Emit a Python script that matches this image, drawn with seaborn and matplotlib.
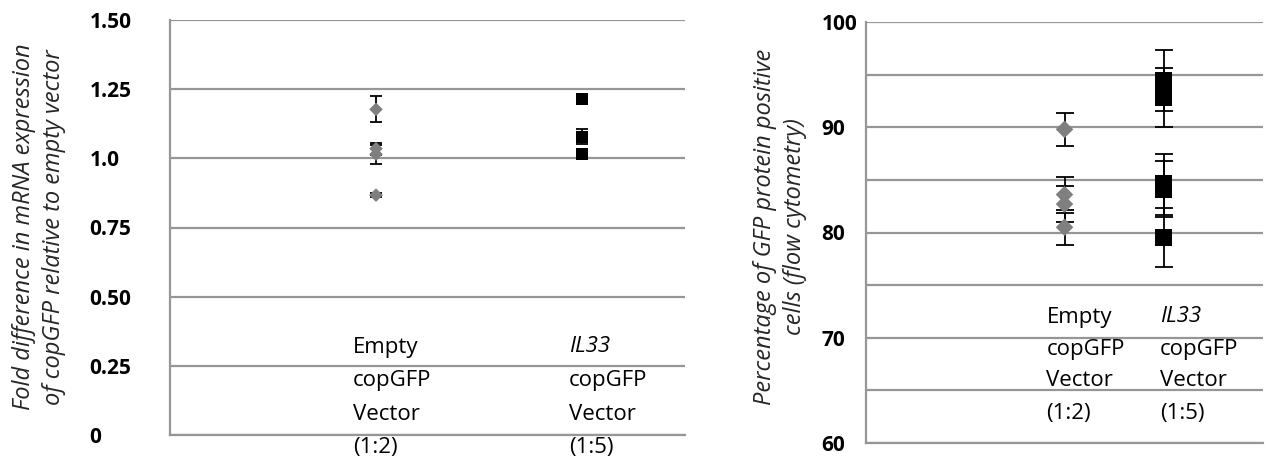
import pandas as pd
import seaborn as sns
import matplotlib.pyplot as plt
from matplotlib.ticker import MultipleLocator

# Fold difference in copGFP mRNA (one value per replicate, with error)
mrna_empty = [1.177, 1.035, 1.015, 0.867]
mrna_empty_err = [0.047, 0.022, 0.035, 0.008]
mrna_il33 = [1.214, 1.078, 1.015]
mrna_il33_err = [0.008, 0.027, 0.008]

# Percentage of GFP positive cells (flow cytometry)
gfp_empty = [89.8, 83.6, 82.7, 80.5]
gfp_empty_err = [1.6, 1.7, 1.7, 1.65]
gfp_il33 = [94.4, 92.8, 84.6, 84.1, 79.5]
gfp_il33_err = [2.9, 2.8, 2.9, 2.65, 2.8]

mrna_ticks = [0, 0.25, 0.5, 0.75, 1.0, 1.25, 1.5]
mrna_ticklabels = ['0', '0.25', '0.50', '0.75', '1.0', '1.25', '1.50']
gfp_ticks = [60, 70, 80, 90, 100]

grey = '#7f7f7f'
gridc = '#969696'

sns.set_theme(style='white')
plt.rcParams['font.family'] = ['Open Sans', 'DejaVu Sans']


def make_df(empty, empty_err, il33, il33_err, xpos):
    return pd.DataFrame({
        'group': ['Empty'] * len(empty) + ['IL33'] * len(il33),
        'value': empty + il33,
        'err': empty_err + il33_err,
        'x': [xpos[0]] * len(empty) + [xpos[1]] * len(il33),
    })


df_mrna = make_df(mrna_empty, mrna_empty_err, mrna_il33, mrna_il33_err, [2, 4])
df_gfp = make_df(gfp_empty, gfp_empty_err, gfp_il33, gfp_il33_err, [2, 3])

fig = plt.figure(figsize=(12.68, 4.59), dpi=100)
ax1 = fig.add_axes([170 / 1268, 1 - 435 / 459, 515 / 1268, 415 / 459])
ax2 = fig.add_axes([866 / 1268, 1 - 443 / 459, 397 / 1268, 421 / 459])


def draw(ax, df, sizes, capsize):
    ax.errorbar(df['x'], df['value'], yerr=df['err'], fmt='none',
                ecolor='black', elinewidth=1.3, capsize=capsize,
                capthick=1.3, zorder=2)
    sns.scatterplot(data=df, x='x', y='value', hue='group', style='group',
                    size='group', sizes=sizes,
                    markers={'Empty': 'D', 'IL33': 's'},
                    palette={'Empty': grey, 'IL33': 'black'},
                    linewidth=0, alpha=1, legend=False, ax=ax, zorder=3)
    ax.set_xlabel('')
    ax.set_ylabel('')
    ax.set_xticks([])
    ax.grid(axis='y', which='both', color=gridc, lw=1.6)
    ax.tick_params(axis='y', which='both', length=0)
    for s in ['top', 'right']:
        ax.spines[s].set_visible(False)
    for s in ['left', 'bottom']:
        ax.spines[s].set_color(gridc)
        ax.spines[s].set_linewidth(1.6)


def cat_label(ax, x, first, rest, dx, dy0, step):
    lines = [first] + rest
    for i, txt in enumerate(lines):
        style = 'italic' if (i == 0 and txt == 'IL33') else 'normal'
        ax.annotate(txt, xy=(x, 0), xycoords=ax.get_xaxis_transform(),
                    xytext=(dx, dy0 - i * step), textcoords='offset pixels',
                    ha='left', va='center', fontsize=16, fontstyle=style,
                    color='black', annotation_clip=False)


def style_ticklabels(ax):
    for tl in ax.get_yticklabels():
        tl.set_ha('left')
        tl.set_fontweight('bold')
        tl.set_fontsize(15)
        tl.set_color('black')


# left panel: mRNA
draw(ax1, df_mrna, {'Empty': 48, 'IL33': 78}, 4.5)
ax1.set_xlim(0, 5)
ax1.set_ylim(0, 1.5)
ax1.set_yticks(mrna_ticks)
ax1.set_yticklabels(mrna_ticklabels)
ax1.tick_params(axis='y', pad=58)
style_ticklabels(ax1)
cat_label(ax1, 2, 'Empty', ['copGFP', 'Vector', '(1:2)'], -23, 88, 33.5)
cat_label(ax1, 4, 'IL33', ['copGFP', 'Vector', '(1:5)'], -13, 88, 33.5)

# right panel: flow cytometry
draw(ax2, df_gfp, {'Empty': 80, 'IL33': 155}, 6.5)
ax2.set_xlim(0, 4)
ax2.set_ylim(60, 100)
ax2.set_yticks(gfp_ticks)
ax2.yaxis.set_minor_locator(MultipleLocator(5))
ax2.tick_params(axis='y', pad=32)
style_ticklabels(ax2)
cat_label(ax2, 2, 'Empty', ['copGFP', 'Vector', '(1:2)'], -18, 126, 32)
cat_label(ax2, 3, 'IL33', ['copGFP', 'Vector', '(1:5)'], -4, 126, 32)

fig.text(39 / 1268, 1 - 227 / 459,
         'Fold difference in mRNA expression\nof copGFP relative to empty vector',
         rotation=90, ha='center', va='center', multialignment='center',
         fontsize=17, fontstyle='italic', linespacing=1.3)
fig.text(780 / 1268, 1 - 227 / 459,
         'Percentage of GFP protein positive\ncells (flow cytometry)',
         rotation=90, ha='center', va='center', multialignment='center',
         fontsize=17, fontstyle='italic', linespacing=1.3)

fig.savefig('out.png', dpi=100)
